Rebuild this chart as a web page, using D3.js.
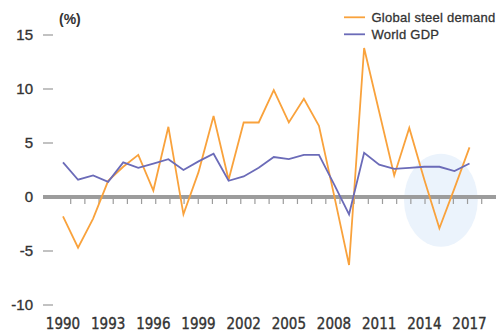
<!DOCTYPE html>
<html>
<head>
<meta charset="utf-8">
<script src="https://cdn.jsdelivr.net/npm/d3@7"></script>
<style>
  html, body { margin: 0; padding: 0; background: #fff; }
  svg { display: block; }
</style>
</head>
<body>
<svg id="chart" width="496" height="333"></svg>
<script>
const years = d3.range(1990, 2018);
const steelDemand = [-1.8, -4.7, -2.0, 1.5, 2.8, 3.9, 0.6, 6.5, -1.6, 2.3,
                     7.5, 1.6, 6.9, 6.9, 9.9, 6.9, 9.1, 6.6, 0.2, -6.3,
                     13.8, 7.9, 2.0, 6.4, 1.6, -2.9, 0.8, 4.6];
const worldGDP = [3.2, 1.6, 2.0, 1.4, 3.2, 2.7, 3.1, 3.5, 2.5, 3.3,
                  4.0, 1.5, 1.9, 2.7, 3.7, 3.5, 3.9, 3.9, 1.2, -1.6,
                  4.1, 3.0, 2.6, 2.7, 2.8, 2.8, 2.4, 3.1];
const yTicks = [-10, -5, 5, 15, 10];
const xTickYears = [1990, 1993, 1996, 1999, 2002, 2005, 2008, 2011, 2014, 2017];
const seriesNames = ["Global steel demand", "World GDP"];
const seriesColors = ["#f9a23c", "#6b6bb8"];
const minorTickCount = 30;
// highlighted region around 2015 (centre year, centre value, half-width in years, half-height in %)
const highlight = { year: 2015.1, value: -0.3, halfYears: 2.45, halfValue: 4.3 };

const svg = d3.select("#chart");
const x = d3.scaleLinear().domain([1990, 2017]).range([63, 469.5]);
const y = d3.scaleLinear().domain([-10, 15]).range([305, 35]);
const minorX = d3.scaleLinear().domain([0, minorTickCount - 1]).range([70.7, 481.7]);

// highlight ellipse
svg.append("ellipse")
  .attr("cx", x(highlight.year))
  .attr("cy", y(highlight.value))
  .attr("rx", x(highlight.year + highlight.halfYears) - x(highlight.year))
  .attr("ry", y(highlight.value - highlight.halfValue) - y(highlight.value))
  .attr("fill", "#ebf3fc");

// y axis ticks and labels
const yAxis = svg.append("g");
yAxis.selectAll("line").data(yTicks).join("line")
  .attr("x1", 43).attr("x2", 53)
  .attr("y1", d => y(d)).attr("y2", d => y(d))
  .attr("stroke", "#999").attr("stroke-width", 1.2);
yAxis.selectAll("text").data([...yTicks, 0]).join("text")
  .attr("x", 33).attr("y", d => y(d))
  .attr("dy", "0.36em")
  .attr("text-anchor", "end")
  .attr("font-family", "Liberation Sans, Arial, sans-serif")
  .attr("font-size", 15)
  .attr("fill", "#333").attr("stroke", "#333").attr("stroke-width", 0.35)
  .text(d => d);

// zero line
svg.append("line")
  .attr("x1", 43).attr("x2", 496)
  .attr("y1", y(0)).attr("y2", y(0))
  .attr("stroke", "#9c9c9c").attr("stroke-width", 4);

// minor ticks under zero line
svg.append("g").selectAll("line").data(d3.range(minorTickCount)).join("line")
  .attr("x1", d => minorX(d)).attr("x2", d => minorX(d))
  .attr("y1", y(0) + 2).attr("y2", y(0) + 7)
  .attr("stroke", "#9c9c9c").attr("stroke-width", 1.2);

// x labels
svg.append("g").selectAll("text").data(xTickYears).join("text")
  .attr("x", d => x(d)).attr("y", 329)
  .attr("text-anchor", "middle")
  .attr("font-family", "Liberation Sans Narrow, Arial Narrow, DejaVu Sans Condensed, sans-serif")
  .attr("font-size", 15)
  .attr("fill", "#333").attr("stroke", "#333").attr("stroke-width", 0.35)
  .text(d => d);

// unit label
svg.append("text")
  .attr("x", 59).attr("y", 24)
  .attr("font-family", "Liberation Sans, Arial, sans-serif")
  .attr("font-size", 14).attr("font-weight", "bold")
  .attr("fill", "#333")
  .text("(%)");

// lines
const line = d3.line().x((d, i) => x(years[i])).y(d => y(d));
[steelDemand, worldGDP].forEach((s, k) => {
  svg.append("path")
    .attr("d", line(s))
    .attr("fill", "none")
    .attr("stroke", seriesColors[k])
    .attr("stroke-width", 1.8)
    .attr("stroke-linejoin", "miter");
});

// legend
const legend = svg.append("g");
seriesNames.forEach((name, k) => {
  const ly = 17.3 + k * 17;
  legend.append("line")
    .attr("x1", 344).attr("x2", 365)
    .attr("y1", ly).attr("y2", ly)
    .attr("stroke", seriesColors[k]).attr("stroke-width", 1.8);
  legend.append("text")
    .attr("x", 371.5).attr("y", ly + 4.5)
    .attr("font-family", "Liberation Sans, Arial, sans-serif")
    .attr("font-size", 13)
    .attr("letter-spacing", 0.25)
    .attr("fill", "#333").attr("stroke", "#333").attr("stroke-width", 0.3)
    .text(name);
});
</script>
</body>
</html>
